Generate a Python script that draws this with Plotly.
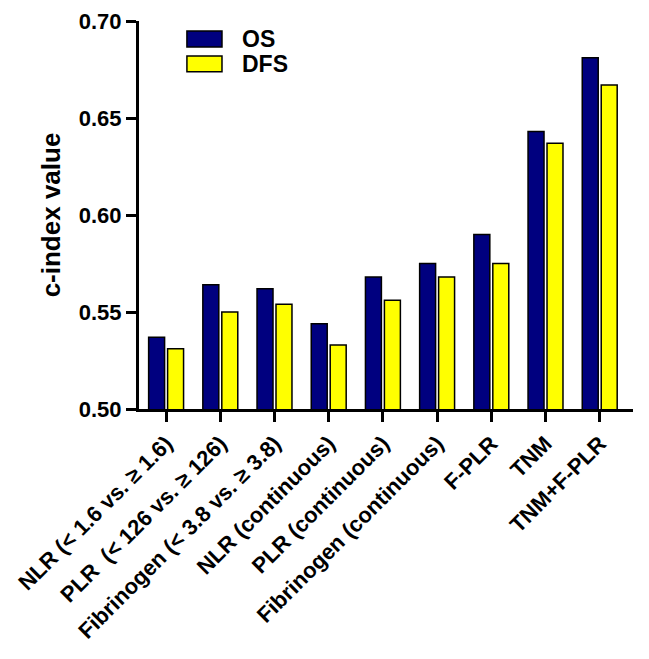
import plotly.graph_objects as go

categories = [
    "NLR (< 1.6 vs. ≥ 1.6)",
    "PLR  (< 126 vs. ≥ 126)",
    "Fibrinogen (< 3.8 vs. ≥ 3.8)",
    "NLR (continuous)",
    "PLR (continuous)",
    "Fibrinogen (continuous)",
    "F-PLR",
    "TNM",
    "TNM+F-PLR",
]
os_values = [0.537, 0.564, 0.562, 0.544, 0.568, 0.575, 0.590, 0.643, 0.681]
dfs_values = [0.531, 0.550, 0.554, 0.533, 0.556, 0.568, 0.575, 0.637, 0.667]
series_names = ["OS", "DFS"]
y_ticks = [0.50, 0.55, 0.60, 0.65, 0.70]

FONT = "Liberation Sans, Arial, sans-serif"
NAVY = "#00007f"
YELLOW = "#ffff00"

fig = go.Figure()
fig.add_trace(go.Bar(x=categories, y=os_values, name=series_names[0],
                     marker=dict(color=NAVY, line=dict(color="black", width=1.5)),
                     showlegend=False))
fig.add_trace(go.Bar(x=categories, y=dfs_values, name=series_names[1],
                     marker=dict(color=YELLOW, line=dict(color="black", width=1.5)),
                     showlegend=False))

# legend drawn as boxes + text
legend_rows = [(0.974, 0.933, NAVY, series_names[0]), (0.910, 0.869, YELLOW, series_names[1])]
for y0, y1, col, name in legend_rows:
    fig.add_shape(type="rect", xref="paper", yref="paper", x0=0.097, x1=0.168, y0=y1, y1=y0,
                  fillcolor=col, line=dict(color="black", width=1.5))
    fig.add_annotation(xref="paper", yref="paper", x=0.205, y=(y0 + y1) / 2, text=name,
                       showarrow=False, xanchor="left", yanchor="middle",
                       font=dict(family=FONT, size=23, color="black", weight="bold"))

# page body has an 8px default margin, so the figure is sized to fit inside the window
fig.update_layout(
    width=641, height=651,
    margin=dict(l=131, r=16, t=13, b=250),
    paper_bgcolor="white", plot_bgcolor="white",
    barmode="group", bargap=0.30, bargroupgap=0.158,
    font=dict(family=FONT, color="black"),
)
fig.update_xaxes(
    range=[-0.5, 8.614], showline=True, linecolor="black", linewidth=3,
    ticks="outside", ticklen=10, tickwidth=3, tickcolor="black",
    tickangle=-45, showgrid=False, zeroline=False, automargin=False,
    tickfont=dict(family=FONT, size=22, color="black", weight="bold"),
)
fig.update_yaxes(
    range=[0.5, 0.70], tickvals=y_ticks, tickformat=".2f",
    showline=True, linecolor="black", linewidth=3,
    ticks="outside", ticklen=10, tickwidth=3, tickcolor="black",
    showgrid=False, zeroline=False, automargin=False,
    tickfont=dict(family=FONT, size=22, color="black", weight="bold"),
    title=dict(text="c-index value", standoff=11,
               font=dict(family=FONT, size=26, color="black", weight="bold")),
)

fig.write_html("out.html")
